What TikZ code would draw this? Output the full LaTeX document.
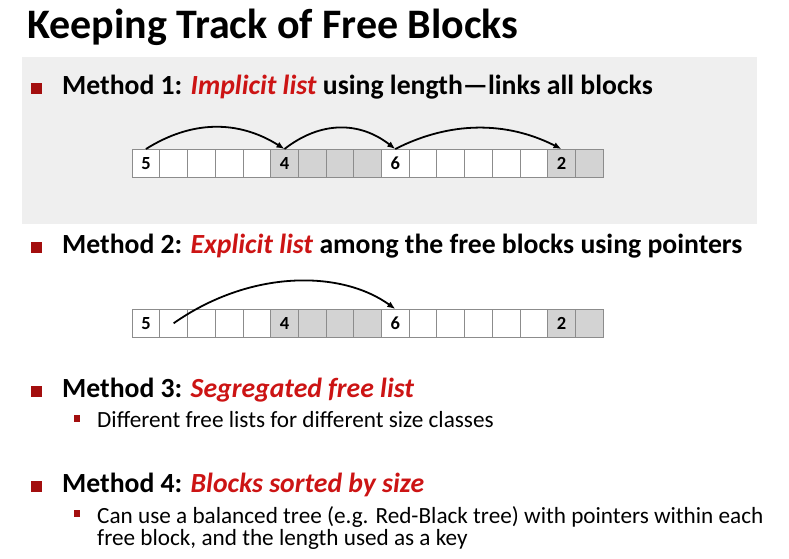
\documentclass[tikz,border=0pt]{standalone}
\usepackage{fontspec}
\setmainfont{Carlito}
\usetikzlibrary{arrows.meta}
\definecolor{panelgray}{RGB}{239,239,239}
\definecolor{bulletred}{RGB}{163,14,14}
\definecolor{accentred}{RGB}{204,20,20}
\definecolor{cellgray}{RGB}{211,211,211}
\definecolor{celledge}{RGB}{140,140,140}
\newcommand{\hl}[1]{\textcolor{accentred}{\textit{#1}}}

\begin{document}
\begin{tikzpicture}[x=1pt,y=-1pt,
  cell/.style={draw=celledge, line width=0.8pt, minimum width=27.7pt,
    minimum height=27.7pt, inner sep=0pt, anchor=north west,
    font=\fontsize{18.5}{18.5}\selectfont\bfseries},
  txt/.style={anchor=base west, inner sep=0pt},
  titletxt/.style={txt, font=\fontsize{42}{48}\selectfont\bfseries},
  headtxt/.style={txt, font=\fontsize{27.7}{32}\selectfont\bfseries},
  subtxt/.style={txt, font=\fontsize{23.2}{27}\selectfont},
  bigbullet/.style={fill=bulletred, minimum size=10.5pt, inner sep=0pt},
  smallbullet/.style={fill=bulletred, minimum width=6.5pt, minimum height=7pt, inner sep=0pt},
  link/.style={line width=1.8pt, -{Latex[length=8pt,width=6.5pt]}}
]
\useasboundingbox (0,0) rectangle (789,558);

% title
\node[titletxt] (title) at (27,38) {Keeping Track of Free Blocks};

% shaded panel behind method 1
\fill[panelgray] (22,57) rectangle (757,224);

% method 1
\node[bigbullet] (b1) at (36.5,88.3) {};
\node[headtxt] (m1) at (62,94.3) {Method 1: \hl{Implicit list} using length—links all blocks};

% method 2
\node[bigbullet] (b2) at (36.5,247.3) {};
\node[headtxt] (m2) at (62,253.3) {Method 2: \hl{Explicit list} among the free blocks using pointers};

% heap rows
\foreach \r/\y in {a/149, b/309} {
  \foreach \i/\f/\t in {0/white/5, 1/white/{}, 2/white/{}, 3/white/{}, 4/white/{},
                         5/cellgray/4, 6/cellgray/{}, 7/cellgray/{}, 8/cellgray/{},
                         9/white/6, 10/white/{}, 11/white/{}, 12/white/{}, 13/white/{}, 14/white/{},
                         15/cellgray/2, 16/cellgray/{}} {
    \node[cell, fill=\f] (\r\i) at ({131.7+27.7*\i},\y) {\t};
  }
}

% implicit list links
\draw[link] (a0.north) .. controls +(46,-29) and +(-46,-29) .. (a5.north);
\draw[link] (a5.north) .. controls +(36,-28) and +(-36,-28) .. (a9.north);
\draw[link] (a9.north) .. controls +(55,-28) and +(-55,-28) .. (a15.north);

% explicit list link
\draw[link] (b1.center) .. controls +(77,-54) and +(-54,-39) .. (b9.north);

% method 3
\node[bigbullet] (b3) at (36.5,391.3) {};
\node[headtxt] (m3) at (62,397.3) {Method 3: \hl{Segregated free list}};
\node[smallbullet] (s3) at (77,418.3) {};
\node[subtxt] (t3) at (97,427.3) {Different free lists for different size classes};

% method 4
\node[bigbullet] (b4) at (36.5,486.3) {};
\node[headtxt] (m4) at (62,492.3) {Method 4: \hl{Blocks sorted by size}};
\node[smallbullet] (s4) at (77,513.5) {};
\node[subtxt] (t4a) at (97,523.5) {Can use a balanced tree (e.g. Red-Black tree) with pointers within each};
\node[subtxt] (t4b) at (97,545.5) {free block, and the length used as a key};
\end{tikzpicture}
\end{document}
